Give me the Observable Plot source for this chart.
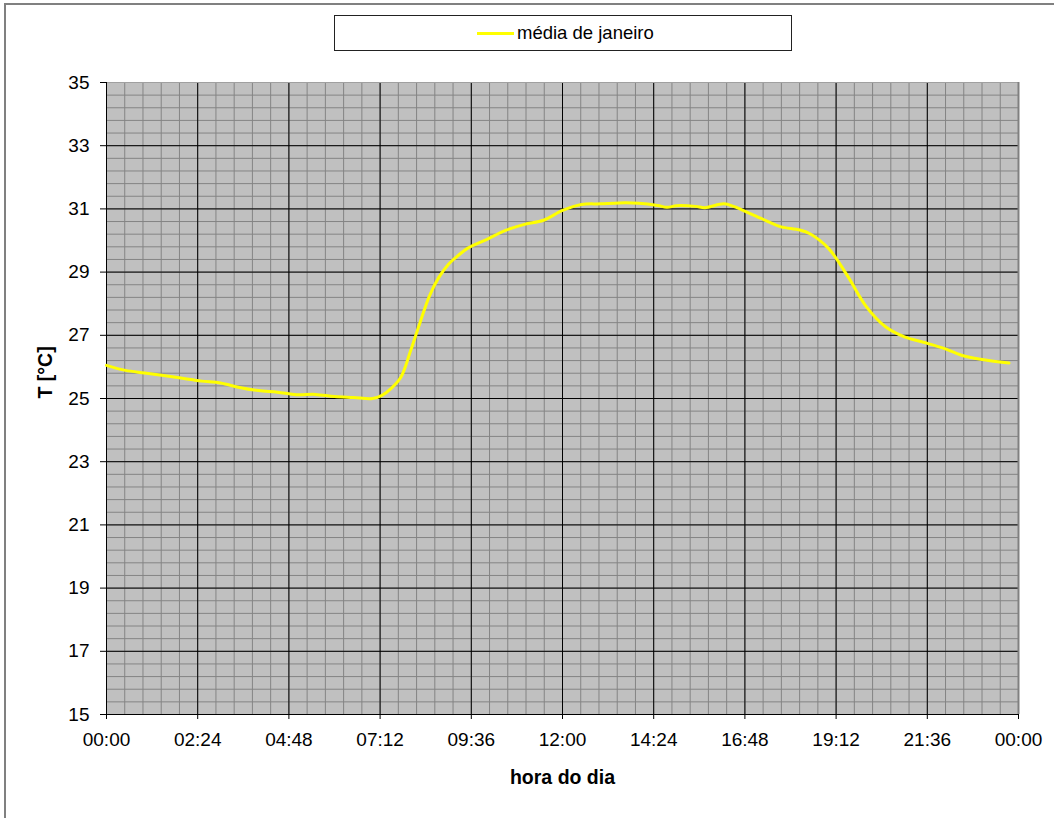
<!DOCTYPE html>
<html>
<head>
<meta charset="utf-8">
<script src="https://cdn.jsdelivr.net/npm/d3@7"></script>
<script src="https://cdn.jsdelivr.net/npm/@observablehq/plot@0.6"></script>
<style>
  html, body { margin: 0; padding: 0; background: #fff; overflow: hidden; }
  #wrap { position: relative; width: 1054px; height: 818px; overflow: hidden; font-family: "Liberation Sans", Arial, sans-serif; }
  #outer { position: absolute; left: 4px; top: 3px; width: 1200px; height: 1000px; border: 2px solid #808080; box-sizing: border-box; pointer-events: none; }
  #legend { position: absolute; left: 334px; top: 15px; width: 458px; height: 36px; border: 1px solid #222; box-sizing: border-box; background: #fff; }
  #legend .sw { position: absolute; left: 142px; top: 16px; width: 37px; height: 3px; background: #ffff00; }
  #legend .lb { position: absolute; left: 182px; top: 5px; font-size: 18.5px; line-height: 24px; color: #000; white-space: nowrap; }
  #chart { position: absolute; left: 0; top: 0; }
</style>
</head>
<body>
<div id="wrap">
  <div id="chart"></div>
  <div id="outer"></div>
  <div id="legend"><div class="sw"></div><div class="lb">média de janeiro</div></div>
</div>
<script>
// hours of the day (decimal) and mean January temperature (°C)
const hours = [0, 0.5, 1, 1.5, 2, 2.5, 3, 3.5, 4, 4.5, 5, 5.5, 6, 6.5, 7, 7.25, 7.5, 7.75, 8, 8.25, 8.5, 8.75, 9, 9.25, 9.5, 10, 10.5, 11, 11.5, 12, 12.5, 13, 13.5, 14, 14.5, 14.75, 15, 15.5, 15.75, 16.25, 16.5, 17, 17.5, 17.75, 18.25, 18.5, 19, 19.5, 20, 20.5, 21, 21.5, 22, 22.5, 23, 23.75];
const temps = [26.05, 25.89, 25.81, 25.73, 25.64, 25.55, 25.49, 25.35, 25.25, 25.20, 25.12, 25.13, 25.06, 25.03, 25.00, 25.10, 25.33, 25.68, 26.50, 27.40, 28.25, 28.84, 29.25, 29.52, 29.75, 30.03, 30.32, 30.51, 30.64, 30.95, 31.14, 31.16, 31.19, 31.18, 31.11, 31.05, 31.10, 31.08, 31.04, 31.16, 31.08, 30.82, 30.55, 30.43, 30.33, 30.22, 29.75, 28.88, 27.90, 27.27, 26.95, 26.78, 26.60, 26.37, 26.24, 26.12];
const xTicks = [0, 2.4, 4.8, 7.2, 9.6, 12, 14.4, 16.8, 19.2, 21.6, 24];
const xTickLabels = ["00:00", "02:24", "04:48", "07:12", "09:36", "12:00", "14:24", "16:48", "19:12", "21:36", "00:00"];
const xMinor = d3.range(0, 51).map(i => i * 0.48);
const yTicks = [15, 17, 19, 21, 23, 25, 27, 29, 31, 33, 35];
const yMinor = d3.range(0, 51).map(i => 15 + i * 0.4);

const data = hours.map((h, i) => ({h, t: temps[i]}));

const chart = Plot.plot({
  width: 1054,
  height: 818,
  marginLeft: 106,
  marginRight: 36,
  marginTop: 82,
  marginBottom: 104,
  style: {fontFamily: "'Liberation Sans', Arial, sans-serif", fontSize: "19px", color: "#000", background: "transparent"},
  x: {domain: [0, 24]},
  y: {domain: [15, 35]},
  marks: [
    Plot.frame({fill: "#c0c0c0", stroke: null}),
    Plot.gridX(xMinor, {stroke: "#848484", strokeOpacity: 1, strokeWidth: 1}),
    Plot.gridY(yMinor, {stroke: "#848484", strokeOpacity: 1, strokeWidth: 1}),
    Plot.gridX(xTicks, {stroke: "#000", strokeOpacity: 1, strokeWidth: 1}),
    Plot.gridY(yTicks, {stroke: "#000", strokeOpacity: 1, strokeWidth: 1}),
    Plot.ruleY([35], {stroke: "#a0a0a0", strokeWidth: 1}),
    Plot.ruleX([24], {stroke: "#808080", strokeWidth: 2}),
    Plot.ruleX([0], {stroke: "#000", strokeWidth: 1}),
    Plot.ruleY([15], {stroke: "#000", strokeWidth: 1}),
    Plot.line(data, {x: "h", y: "t", stroke: "#ffff00", strokeWidth: 3, curve: "catmull-rom"}),
    Plot.axisX(xTicks, {tickSize: 5, tickPadding: 13, tickFormat: (d, i) => xTickLabels[i], label: null, stroke: "#000"}),
    Plot.axisY(yTicks, {tickSize: 6, tickPadding: 11, label: null, stroke: "#000"}),
    Plot.text(["hora do dia"], {frameAnchor: "bottom", dy: 69, fontWeight: "bold", fontSize: 19.5}),
    Plot.text(["T [°C]"], {frameAnchor: "left", dx: -61, rotate: -90, fontWeight: "bold", fontSize: 19.5})
  ]
});
document.getElementById("chart").appendChild(chart);
</script>
</body>
</html>
